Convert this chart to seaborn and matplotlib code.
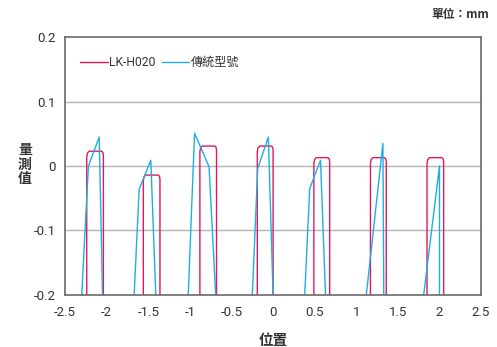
import matplotlib
matplotlib.use("Agg")
import matplotlib.pyplot as plt
from matplotlib.lines import Line2D
import seaborn as sns
import pandas as pd

# ---- data ----
series_names = ["LK-H020", "傳統型號"]

# LK-H020 (red) – one outline per measured step
red_x = [
    [-2.24, -2.24, -2.232, -2.21, -2.06, -2.046, -2.04, -2.04],
    [-1.56, -1.56, -1.552, -1.53, -1.38, -1.366, -1.36, -1.36],
    [-0.88, -0.88, -0.872, -0.85, -0.70, -0.686, -0.68, -0.68],
    [-0.19, -0.19, -0.182, -0.16, -0.02, -0.006, 0.00, 0.00],
    [0.49, 0.49, 0.498, 0.52, 0.66, 0.674, 0.68, 0.68],
    [1.17, 1.17, 1.178, 1.20, 1.34, 1.354, 1.36, 1.36],
    [1.85, 1.85, 1.858, 1.88, 2.03, 2.044, 2.05, 2.05],
]
red_y = [
    [-0.2, 0.014, 0.020, 0.023, 0.023, 0.021, 0.017, -0.2],
    [-0.2, -0.023, -0.017, -0.014, -0.014, -0.016, -0.020, -0.2],
    [-0.2, 0.022, 0.028, 0.031, 0.031, 0.029, 0.025, -0.2],
    [-0.2, 0.022, 0.028, 0.031, 0.031, 0.029, 0.025, -0.2],
    [-0.2, 0.004, 0.010, 0.013, 0.013, 0.011, 0.007, -0.2],
    [-0.2, 0.004, 0.010, 0.013, 0.013, 0.011, 0.007, -0.2],
    [-0.2, 0.004, 0.010, 0.013, 0.013, 0.011, 0.007, -0.2],
]

# 傳統型號 (blue)
blue_x = [
    [-2.30, -2.22, -2.09, -2.05],
    [-1.67, -1.61, -1.47, -1.41],
    [-1.02, -0.944, -0.77, -0.69],
    [-0.25, -0.185, -0.057, 0.00],
    [0.38, 0.44, 0.57, 0.63],
    [1.12, 1.32, 1.33],
    [1.81, 2.00, 2.00],
]
blue_y = [
    [-0.2, 0.000, 0.045, -0.2],
    [-0.2, -0.036, 0.009, -0.2],
    [-0.2, 0.051, -0.001, -0.2],
    [-0.2, -0.004, 0.045, -0.2],
    [-0.2, -0.035, 0.009, -0.2],
    [-0.2, 0.035, -0.2],
    [-0.2, 0.000, -0.2],
]

x_ticks = [-2.5, -2, -1.5, -1, -0.5, 0, 0.5, 1, 1.5, 2, 2.5]
x_tick_labels = ["-2.5", "-2", "-1.5", "-1", "-0.5", "0", "0.5", "1", "1.5", "2", "2.5"]
y_ticks = [-0.2, -0.1, 0, 0.1, 0.2]
y_tick_labels = ["-0.2", "-0.1", "0", "0.1", "0.2"]

# ---- build long table ----
rows = []
for name, xs_all, ys_all in [(series_names[0], red_x, red_y), (series_names[1], blue_x, blue_y)]:
    for seg, (xs, ys) in enumerate(zip(xs_all, ys_all)):
        for xv, yv in zip(xs, ys):
            rows.append({"series": name, "seg": f"{name}-{seg}", "x": xv, "y": yv})
df = pd.DataFrame(rows)

sns.set_theme(style="white")
plt.rcParams["font.family"] = ["Roboto", "Noto Sans CJK TC", "DejaVu Sans"]

RED = "#E2175F"
BLUE = "#1FAEE3"
TXT = "#333333"

fig = plt.figure(figsize=(4.97, 3.47), dpi=100)
ax = fig.add_axes([0.131, 0.150, 0.837, 0.743])

for y in [-0.1, 0, 0.1]:
    ax.axhline(y, color="#b5b5b5", lw=1.0, zorder=0)

sns.lineplot(data=df, x="x", y="y", hue="series", units="seg", estimator=None,
             sort=False, palette={series_names[0]: RED, series_names[1]: BLUE},
             linewidth=1.0, ax=ax, legend=False)

ax.set_xlim(-2.5, 2.5)
ax.set_ylim(-0.2, 0.2)
ax.set_xticks(x_ticks)
ax.set_xticklabels(x_tick_labels)
ax.set_yticks(y_ticks)
ax.set_yticklabels(y_tick_labels)
ax.tick_params(axis="x", direction="in", length=4, width=0.9, color="#555555",
               labelsize=9.5, labelcolor=TXT, pad=8)
ax.tick_params(axis="y", length=0, labelsize=9.5, labelcolor=TXT, pad=7)
for s in ax.spines.values():
    s.set_color("#6a6a6a")
    s.set_linewidth(1.2)

ax.set_xlabel("位置", family=["Noto Sans CJK TC"], fontsize=10.5, fontweight="bold",
              color=TXT, labelpad=9)
ax.set_ylabel("")
fig.text(0.050, 0.525, "量\n測\n值", family=["Noto Sans CJK TC"], fontsize=10,
         fontweight="bold", color=TXT, ha="center", va="center", linespacing=1.05)
fig.text(0.985, 0.957, "單位：mm", family=["Noto Sans CJK TC"], fontsize=8.5,
         fontweight="bold", color=TXT, ha="right", va="center")

handles = [Line2D([], [], color=RED, lw=1.0), Line2D([], [], color=BLUE, lw=1.0)]
leg = ax.legend(handles, series_names, loc="upper left", bbox_to_anchor=(0.01, 0.97),
                ncol=2, frameon=False, handlelength=2.3, handletextpad=0.1,
                columnspacing=0.5, prop={"family": ["Roboto", "Noto Sans CJK TC"], "size": 8.7})
for t in leg.get_texts():
    t.set_color(TXT)

fig.savefig("out.png", dpi=100)
